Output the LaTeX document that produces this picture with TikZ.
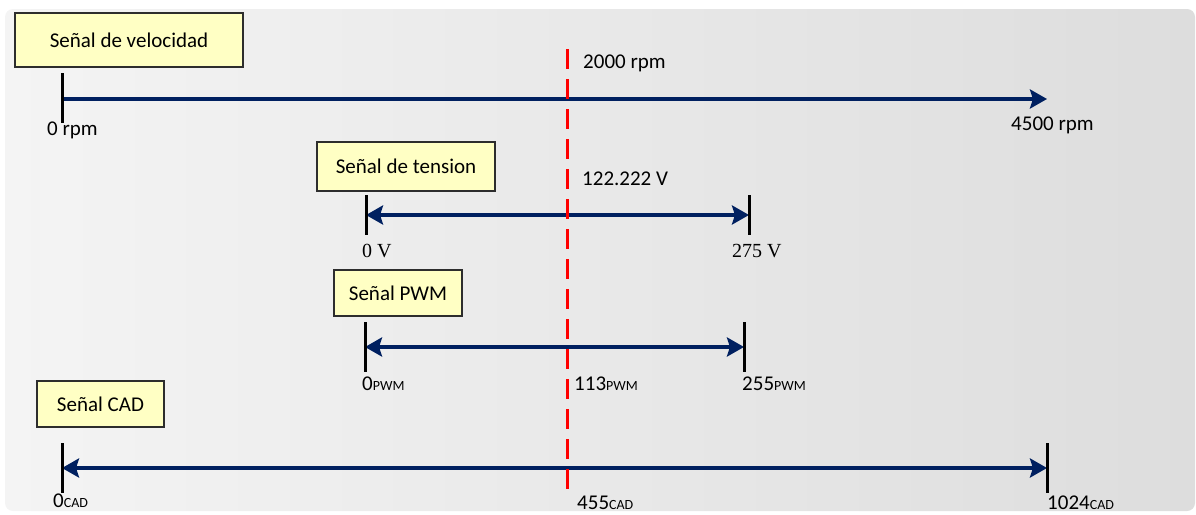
\documentclass[tikz,border=0pt]{standalone}
\usepackage{fontspec}
\setmainfont{Carlito}
\newfontfamily\serifV{Liberation Serif}
\usetikzlibrary{arrows.meta,calc}
\definecolor{navy}{RGB}{0,32,96}
\definecolor{boxfill}{RGB}{255,255,196}
\definecolor{boxedge}{RGB}{45,45,45}
\definecolor{bgL}{RGB}{244,244,244}
\definecolor{bgR}{RGB}{221,221,221}
\definecolor{dashred}{RGB}{255,0,0}
\newcommand\subsc[1]{{\fontsize{14}{14}\selectfont #1}}
\begin{document}
\begin{tikzpicture}[x=1pt,y=-1pt,
  titlebox/.style={draw=boxedge, line width=1.2pt, fill=boxfill, inner sep=0pt, font=\fontsize{21}{24}\selectfont},
  lbl/.style={anchor=base west, inner sep=0pt, font=\fontsize{21}{24}\selectfont},
  tickmark/.style={line width=3pt, black},
  axisone/.style={line width=4pt, navy, -{Stealth[length=17pt,width=19pt,inset=3pt]}},
  axistwo/.style={line width=4pt, navy, {Stealth[length=17pt,width=19pt,inset=3pt]}-{Stealth[length=17pt,width=19pt,inset=3pt]}},
  redline/.style={line width=3pt, dashred, dash pattern=on 20pt off 10pt}
]
\useasboundingbox (0,0) rectangle (1196,514);
\shade[left color=bgL, right color=bgR, rounded corners=8pt] (5,9) rectangle (1195,511);

% title boxes
\node[titlebox, minimum width=228pt, minimum height=54pt] (bvel) at (129,40) {Señal de velocidad};
\node[titlebox, minimum width=178pt, minimum height=49pt] (bten) at (406,166.5) {Señal de tension};
\node[titlebox, minimum width=128pt, minimum height=46pt] (bpwm) at (398,293) {Señal PWM};
\node[titlebox, minimum width=127pt, minimum height=46pt] (bcad) at (100.5,404) {Señal CAD};

% axis end points
\coordinate (v0) at (62,99);
\coordinate (v1) at (1047,99);
\coordinate (t0) at (366,215);
\coordinate (t1) at (749,215);
\coordinate (p0) at (365,347);
\coordinate (p1) at (744,347);
\coordinate (c0) at (62,468);
\coordinate (c1) at (1047,468);
\coordinate (rtop) at (567,49);
\coordinate (rbot) at (567,499);

% arrows
\draw[axisone] (v0) -- (v1);
\draw[axistwo] (t0) -- (t1);
\draw[axistwo] (p0) -- (p1);
\draw[axistwo] (c0) -- (c1);

% ticks
\draw[tickmark] ($(v0)+(0,-26)$) -- ($(v0)+(0,24)$);
\draw[tickmark] ($(t0)+(0,-20)$) -- ($(t0)+(0,20)$);
\draw[tickmark] ($(t1)+(0,-20)$) -- ($(t1)+(0,20)$);
\draw[tickmark] ($(p0)+(0,-25)$) -- ($(p0)+(0,25)$);
\draw[tickmark] ($(p1)+(0,-25)$) -- ($(p1)+(0,25)$);
\draw[tickmark] ($(c0)+(0,-25)$) -- ($(c0)+(0,25)$);
\draw[tickmark] ($(c1)+(0,-25)$) -- ($(c1)+(0,25)$);

% red dashed line
\draw[redline] (rtop) -- (rbot);

% labels
\node[lbl] (l0rpm) at (47,135) {0 rpm};
\node[lbl] (l4500) at (1011,130) {4500 rpm};
\node[lbl] (l2000) at (583,68) {2000 rpm};
\node[lbl] (l122) at (582,185) {122.222 V};
\node[lbl, font=\fontsize{20}{24}\serifV] (l0v) at (362,257) {0 V};
\node[lbl, font=\fontsize{20}{24}\serifV] (l275) at (732,257) {275 V};
\node[lbl] (l0pwm) at (362,390) {0\subsc{PWM}};
\node[lbl] (l113) at (574,390) {113\subsc{PWM}};
\node[lbl] (l255) at (742,390) {255\subsc{PWM}};
\node[lbl] (l0cad) at (53,507) {0\subsc{CAD}};
\node[lbl] (l455) at (577,509) {455\subsc{CAD}};
\node[lbl] (l1024) at (1047,509) {1024\subsc{CAD}};
\end{tikzpicture}
\end{document}
